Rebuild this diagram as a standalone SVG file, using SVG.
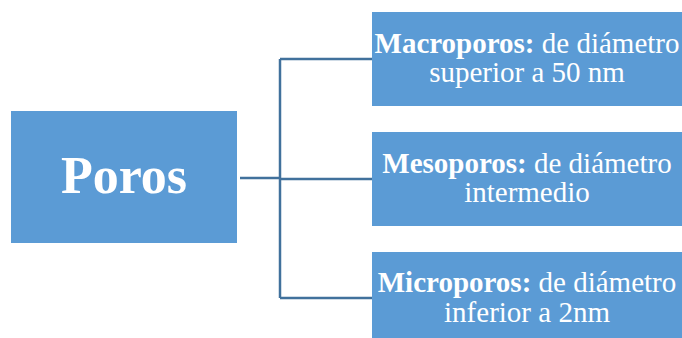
<svg xmlns="http://www.w3.org/2000/svg" width="682" height="338" viewBox="0 0 682 338">
  <style>
    .box { fill: #5B9BD5; }
    .link { fill: none; stroke: #41719C; stroke-width: 2.5; }
    text { font-family: "Liberation Serif", "Times New Roman", serif; fill: #FFFFFF; text-anchor: middle; }
    .label { font-size: 29px; }
    .b { font-weight: bold; }
  </style>
  <rect width="682" height="338" fill="#FFFFFF"/>
  <g id="connectors">
    <path class="link" d="M240 178 H280"/>
    <path class="link" d="M280 59 V298"/>
    <path class="link" d="M280 59 H372"/>
    <path class="link" d="M280 179 H372"/>
    <path class="link" d="M280 298 H372"/>
  </g>
  <g id="poros">
    <rect class="box" x="11" y="111" width="226" height="132"/>
    <text x="124" y="193" font-size="52" class="b">Poros</text>
  </g>
  <g id="macroporos">
    <rect class="box" x="372" y="12" width="310" height="94"/>
    <text class="label" x="527" y="53"><tspan class="b">Macroporos:</tspan> de diámetro</text>
    <text class="label" x="527" y="82">superior a 50 nm</text>
  </g>
  <g id="mesoporos">
    <rect class="box" x="372" y="132" width="310" height="94"/>
    <text class="label" x="527" y="173"><tspan class="b">Mesoporos:</tspan> de diámetro</text>
    <text class="label" x="527" y="202">intermedio</text>
  </g>
  <g id="microporos">
    <rect class="box" x="372" y="252" width="310" height="86"/>
    <text class="label" x="527" y="292"><tspan class="b">Microporos:</tspan> de diámetro</text>
    <text class="label" x="527" y="322">inferior a 2nm</text>
  </g>
</svg>
